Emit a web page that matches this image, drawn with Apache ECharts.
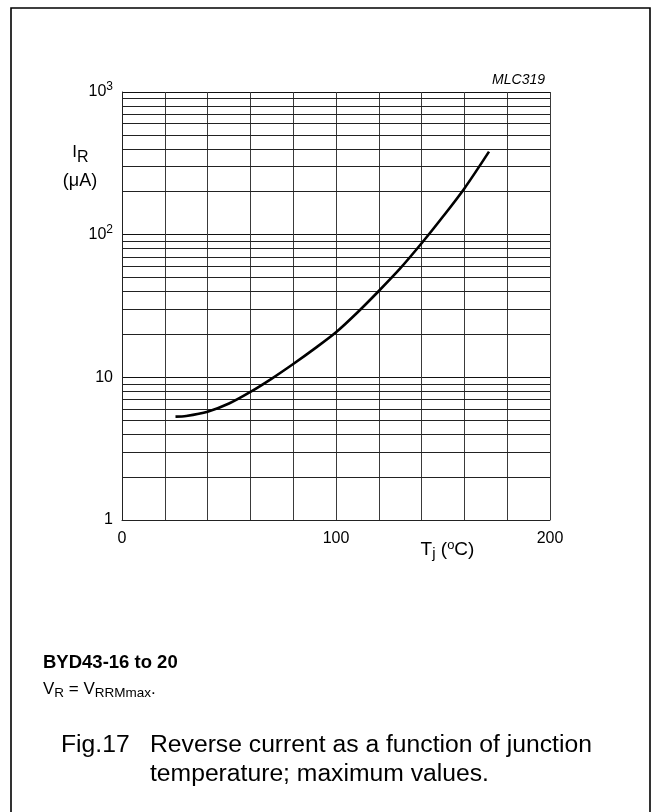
<!DOCTYPE html>
<html>
<head>
<meta charset="utf-8">
<script src="https://cdn.jsdelivr.net/npm/echarts@6/dist/echarts.min.js"></script>
<style>
html,body{margin:0;padding:0;background:#fff;}
#chart{width:652px;height:812px;}
</style>
</head>
<body>
<div id="chart"></div>
<script>
// Junction temperature Tj (°C)
const tempC = [25, 30, 40, 50, 60, 70, 80, 90, 100, 110, 120, 130, 140, 150, 160, 171.5];
// Reverse current IR (μA), maximum values
const currentUA = [5.3, 5.36, 5.74, 6.55, 7.9, 9.8, 12.4, 15.9, 20.7, 28.5, 40.3, 58, 87, 134, 211, 382];
// y-axis tick labels (decades)
const yTickLabels = { 1: '{b|1}', 10: '{b|10}', 100: '{b|10}{s|2}', 1000: '{b|10}{s|3}' };
// x-axis tick labels
const xTickLabels = { 0: '0', 100: '100', 200: '200' };
// minor horizontal grid values within each decade
const minorGridValues = [2,3,4,5,6,7,8,9,20,30,40,50,60,70,80,90,200,300,400,500,600,700,800,900];

const FONT = 'Liberation Sans, Arial, Helvetica, sans-serif';
const chart = echarts.init(document.getElementById('chart'), null, { renderer: 'canvas' });

const option = {
  backgroundColor: '#fff',
  animation: false,
  grid: { left: 122, top: 92, width: 428, height: 428, containLabel: false },
  xAxis: {
    type: 'value', min: 0, max: 200, interval: 20,
    axisLine: { show: true, lineStyle: { color: '#222', width: 1 } },
    axisTick: { show: false },
    splitLine: { show: true, lineStyle: { color: '#3a3a3a', width: 1 } },
    axisLabel: {
      margin: 11, fontSize: 16, color: '#000', fontFamily: FONT,
      formatter: v => (xTickLabels[v] !== undefined ? xTickLabels[v] : '')
    }
  },
  yAxis: {
    type: 'log', logBase: 10, min: 1, max: 1000,
    axisLine: { show: true, lineStyle: { color: '#222', width: 1 } },
    axisTick: { show: false },
    splitLine: { show: true, lineStyle: { color: '#111', width: 1 } },
    axisLabel: {
      margin: 9, color: '#000', fontFamily: FONT,
      formatter: v => yTickLabels[Math.round(v)] || '',
      rich: {
        b: { fontSize: 16, lineHeight: 22, fontFamily: FONT, color: '#000' },
        s: { fontSize: 12, lineHeight: 12, verticalAlign: 'top', fontFamily: FONT, color: '#000' }
      }
    }
  },
  series: [
    {
      type: 'line',
      data: [],
      silent: true,
      markLine: {
        silent: true,
        symbol: ['none', 'none'],
        label: { show: false },
        lineStyle: { color: '#222', width: 1, type: 'solid' },
        data: minorGridValues.map(v => ({ yAxis: v }))
      }
    },
    {
      type: 'line',
      data: tempC.map((t, i) => [t, currentUA[i]]),
      smooth: 0.3,
      showSymbol: false,
      lineStyle: { color: '#000', width: 2.6 },
      z: 5
    }
  ],
  graphic: [
    { type: 'rect', shape: { x: 11, y: 8, width: 639, height: 812 }, style: { fill: 'none', stroke: '#000', lineWidth: 1.6 }, silent: true },
    { type: 'text', x: 545, y: 80.5, style: { text: 'MLC319', font: 'italic 14px ' + FONT, fill: '#000', textAlign: 'right', textVerticalAlign: 'middle' } },
    { type: 'text', x: 80.5, y: 157.5, style: {
        text: '{a|I}{r|R}', textAlign: 'center', textVerticalAlign: 'middle',
        rich: {
          a: { fontSize: 17, lineHeight: 17, fontFamily: FONT, fill: '#000', verticalAlign: 'top' },
          r: { fontSize: 16, lineHeight: 28, fontFamily: FONT, fill: '#000', verticalAlign: 'middle' }
        } } },
    { type: 'text', x: 80, y: 181.5, style: { text: '(μA)', font: '18px ' + FONT, fill: '#000', textAlign: 'center', textVerticalAlign: 'middle' } },
    { type: 'text', x: 447.5, y: 550, style: {
        text: '{a|T}{sub|j}{a| (}{sup|o}{a|C)}', textAlign: 'center', textVerticalAlign: 'middle',
        rich: {
          a: { fontSize: 19, lineHeight: 22, fontFamily: FONT, fill: '#000' },
          sub: { fontSize: 15, lineHeight: 12, fontFamily: FONT, fill: '#000', verticalAlign: 'bottom' },
          sup: { fontSize: 13, lineHeight: 12, fontFamily: FONT, fill: '#000', verticalAlign: 'top' }
        } } },
    { type: 'text', x: 43, y: 662.5, style: { text: 'BYD43-16 to 20', font: 'bold 18.5px ' + FONT, fill: '#000', textAlign: 'left', textVerticalAlign: 'middle' } },
    { type: 'text', x: 43, y: 689, style: {
        text: '{a|V}{sub|R}{a| = V}{sub|RRMmax}{a|.}', textAlign: 'left', textVerticalAlign: 'middle',
        rich: {
          a: { fontSize: 17, lineHeight: 22, fontFamily: FONT, fill: '#000' },
          sub: { fontSize: 13.5, lineHeight: 10, fontFamily: FONT, fill: '#000', verticalAlign: 'bottom' }
        } } },
    { type: 'text', x: 61, y: 745, style: { text: 'Fig.17', font: '24.7px ' + FONT, fill: '#000', textAlign: 'left', textVerticalAlign: 'middle' } },
    { type: 'text', x: 150, y: 745, style: { text: 'Reverse current as a function of junction', font: '24.7px ' + FONT, fill: '#000', textAlign: 'left', textVerticalAlign: 'middle' } },
    { type: 'text', x: 150, y: 774, style: { text: 'temperature; maximum values.', font: '24.7px ' + FONT, fill: '#000', textAlign: 'left', textVerticalAlign: 'middle' } }
  ]
};
chart.setOption(option);
</script>
</body>
</html>
